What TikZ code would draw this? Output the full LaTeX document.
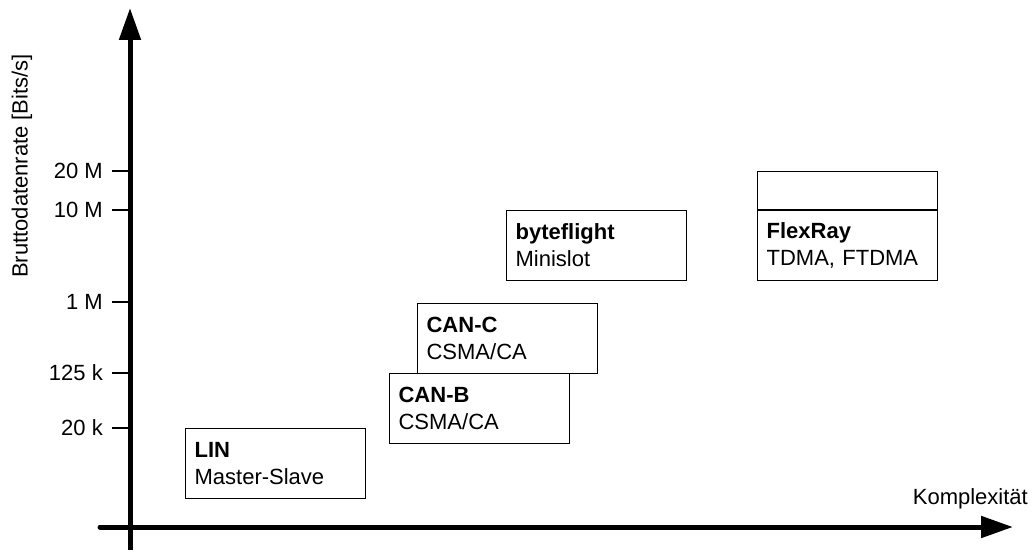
\documentclass[tikz,border=0pt]{standalone}
\usepackage{fontspec}
\setmainfont{Liberation Sans}
\usetikzlibrary{arrows.meta,positioning}
\begin{document}
\begin{tikzpicture}[x=1pt,y=-1pt,
every node/.style={font=\fontsize{22}{27}\selectfont},
axisstyle/.style={line width=5pt,-{Triangle[length=32pt,width=21pt]}},
tickstyle/.style={line width=1.2pt},
busbox/.style={draw,line width=1.2pt,rectangle,anchor=north west,minimum width=180pt,minimum height=70pt,
  text width=162pt,inner xsep=9pt,inner ysep=0pt,align=left}]

\useasboundingbox (0,0) rectangle (1035,553);

\coordinate (ybot) at (130,550);
\coordinate (ytop) at (130,8);
\coordinate (xleft) at (100,527);
\coordinate (xright) at (1013,527);

\draw[axisstyle] (ybot) -- (ytop);
\draw[axisstyle,line cap=round] (xleft) -- (xright);

\foreach \yy/\lab in {171/20 M,210/10 M,302/1 M,373/125 k,428/20 k}{
  \coordinate (t\yy) at (112,\yy);
  \draw[tickstyle] (t\yy) -- (130,\yy);
  \node[anchor=east,inner sep=0pt] (l\yy) at (103,\yy) {\lab};
}

\node[rotate=90,inner sep=0pt] (ylabel) at (22,166) {Bruttodatenrate [Bits/s]};
\node[anchor=base east,inner sep=0pt] (xlabel) at (1028,504) {Komplexität};

\node[busbox] (lin) at (185,428) {\textbf{LIN}\\Master-Slave};
\node[busbox] (canc) at (417,303) {\textbf{CAN-C}\\CSMA/CA};
\node[busbox] (canb) at (389,373) {\textbf{CAN-B}\\CSMA/CA};
\node[busbox] (byteflight) at (506,210) {\textbf{byteflight}\\Minislot};
\node[busbox] (flexray) at (757,210) {\textbf{FlexRay}\\TDMA, FTDMA};
\node[busbox,anchor=south west,minimum height=38pt] (flextop) at (flexray.north west) {};

\end{tikzpicture}
\end{document}
